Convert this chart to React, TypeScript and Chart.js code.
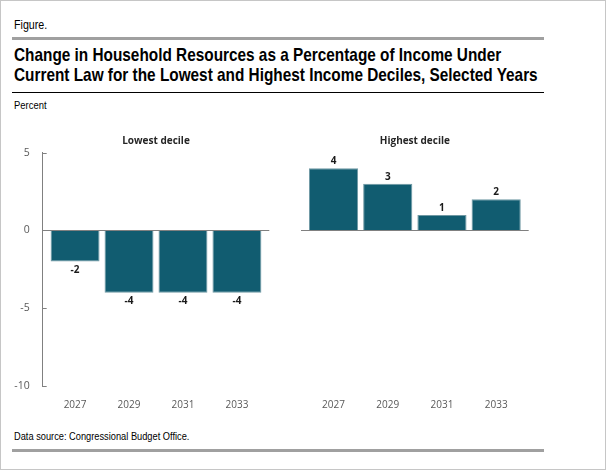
import React, { useEffect, useRef } from "react";
import { Chart, registerables } from "chart.js";

Chart.register(...registerables);

const years = ["2027", "2029", "2031", "2033"];
const lowestDecile = [-2, -4, -4, -4];
const highestDecile = [4, 3, 1, 2];
const yTicks = [-10, -5, 0, 5];
const panelTitles = ["Lowest decile", "Highest decile"];

const BAR = "#115c70";
const BAR_EDGE = "#6f98a3";
const AXIS = "#808080";
const TICK_TEXT = "#595959";
const SANS = "'Open Sans', 'Noto Sans', sans-serif";
const NARROW = "'Liberation Sans', Arial, sans-serif";

const valueLabels = {
  id: "valueLabels",
  afterDatasetsDraw(chart: any) {
    const ctx = chart.ctx;
    const meta = chart.getDatasetMeta(0);
    const data = chart.data.datasets[0].data as any[];
    ctx.save();
    ctx.font = `bold 10px ${SANS}`;
    ctx.fillStyle = "#1a1a1a";
    ctx.textAlign = "center";
    ctx.textBaseline = "middle";
    meta.data.forEach((bar: any, i: number) => {
      const v = data[i].y;
      const y = v >= 0 ? bar.y - 7 : bar.y + 8.7;
      ctx.fillText(String(v), bar.x, y);
    });
    ctx.restore();
  },
};

const innerTicks = {
  id: "innerTicks",
  afterDraw(chart: any) {
    const ctx = chart.ctx;
    const ys = chart.scales.y;
    const left = chart.chartArea.left;
    ctx.save();
    ctx.strokeStyle = AXIS;
    ctx.lineWidth = 1;
    ys.ticks.forEach((t: any) => {
      const py = Math.round(ys.getPixelForValue(t.value)) + 0.5;
      ctx.beginPath();
      ctx.moveTo(left, py);
      ctx.lineTo(left + 4, py);
      ctx.stroke();
    });
    ctx.restore();
  },
};

function makeConfig(values: number[], title: string, showY: boolean, padLeft: number, padRight: number): any {
  return {
    type: "bar",
    data: {
      datasets: [
        {
          data: values.map((v, i) => ({ x: i, y: v })),
          backgroundColor: BAR,
          borderColor: BAR_EDGE,
          borderWidth: 1,
          categoryPercentage: 1,
          barPercentage: 0.907,
        },
      ],
    },
    options: {
      responsive: false,
      animation: false,
      layout: { padding: { left: padLeft, right: padRight, top: 0, bottom: 0 } },
      plugins: {
        legend: { display: false },
        tooltip: { enabled: false },
        title: {
          display: true,
          fullSize: false,
          text: title,
          color: "#262626",
          font: { family: SANS, size: 10, weight: "bold", lineHeight: 1.2 },
          padding: { top: 15, bottom: 5.7 },
        },
      },
      scales: {
        x: {
          type: "linear",
          min: -0.6,
          max: 3.6,
          offset: false,
          grid: { display: false, drawTicks: false, offset: false },
          border: { display: false },
          afterBuildTicks: (s: any) => {
            s.ticks = years.map((_, i) => ({ value: i }));
          },
          ticks: {
            callback: (v: any) => years[v] ?? "",
            color: TICK_TEXT,
            font: { family: SANS, size: 10 },
            padding: 13,
            maxRotation: 0,
            autoSkip: false,
          },
          afterFit: (s: any) => {
            s.height = 34;
          },
        },
        y: {
          min: -10,
          max: 5,
          afterBuildTicks: (s: any) => {
            s.ticks = yTicks.map((v) => ({ value: v }));
          },
          grid: {
            drawTicks: false,
            color: (c: any) => (c.tick && c.tick.value === 0 ? AXIS : "rgba(0,0,0,0)"),
            lineWidth: 1,
          },
          border: { display: showY, color: AXIS },
          ticks: {
            display: showY,
            color: TICK_TEXT,
            font: { family: SANS, size: 10.5 },
            padding: 13,
          },
          afterFit: (s: any) => {
            s.width = showY ? 42.7 : 0;
          },
        },
      },
    },
    plugins: showY ? [valueLabels, innerTicks] : [valueLabels],
  };
}

function Txt(props: {
  x: number;
  baseline: number;
  size: number;
  bold?: boolean;
  children: React.ReactNode;
  lh?: number;
  sx?: number;
}) {
  const lh = props.lh ?? props.size;
  const top = props.lh
    ? props.baseline - ((lh - props.size * 1.117) / 2 + props.size * 0.905)
    : props.baseline - props.size * 0.8465;
  return (
    <div
      style={{
        position: "absolute",
        left: props.x,
        top,
        fontFamily: NARROW,
        fontSize: props.size,
        fontWeight: props.bold ? "bold" : "normal",
        lineHeight: `${lh}px`,
        whiteSpace: "nowrap",
        color: "#000",
        transform: `scaleX(${props.sx ?? 0.82})`,
        transformOrigin: "0 0",
      }}
    >
      {props.children}
    </div>
  );
}

export default function App() {
  const leftRef = useRef<HTMLCanvasElement>(null);
  const rightRef = useRef<HTMLCanvasElement>(null);

  useEffect(() => {
    const c1 = new Chart(leftRef.current!, makeConfig(lowestDecile, panelTitles[0], true, 0, 20.7));
    const c2 = new Chart(rightRef.current!, makeConfig(highestDecile, panelTitles[1], false, 11, 77.3));
    return () => {
      c1.destroy();
      c2.destroy();
    };
  }, []);

  return (
    <div style={{ position: "absolute", left: 0, top: 0, width: 606, height: 470, background: "#fff", overflow: "hidden" }}>
      <div
        style={{
          position: "absolute",
          left: 0,
          top: 0,
          width: 606,
          height: 470,
          boxSizing: "border-box",
          border: "1px solid #c6c6c6",
        }}
      />
      <Txt x={14} baseline={28.7} size={13}>Figure.</Txt>
      <div style={{ position: "absolute", left: 12, top: 37, width: 532, height: 3, background: "#a0a0a0" }} />
      <Txt x={14} baseline={61} size={18.5} bold lh={20} sx={0.83}>
        Change in Household Resources as a Percentage of Income Under
        <br />
        Current Law for the Lowest and Highest Income Deciles, Selected Years
      </Txt>
      <div style={{ position: "absolute", left: 12, top: 91.5, width: 532, height: 1, background: "#000" }} />
      <Txt x={14} baseline={109.3} size={11.5}>Percent</Txt>
      <canvas
        ref={leftRef}
        width={290}
        height={300}
        style={{ position: "absolute", left: 0, top: 120, width: 290, height: 300 }}
      />
      <canvas
        ref={rightRef}
        width={316}
        height={300}
        style={{ position: "absolute", left: 290, top: 120, width: 316, height: 300 }}
      />
      <Txt x={14} baseline={441} size={11.3}>Data source: Congressional Budget Office.</Txt>
      <div style={{ position: "absolute", left: 12, top: 449, width: 532, height: 3, background: "#a0a0a0" }} />
    </div>
  );
}
